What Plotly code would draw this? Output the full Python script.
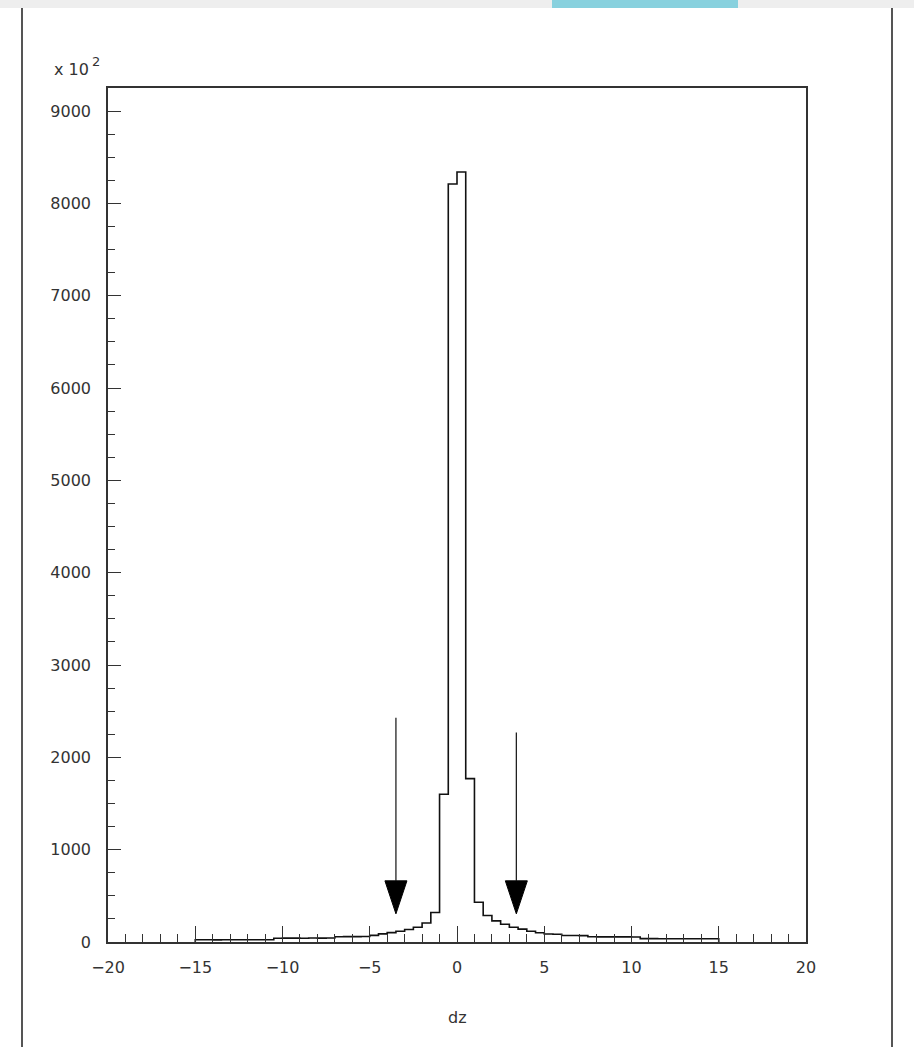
import numpy as np
import plotly.graph_objects as go

# dz histogram: 60 bins of width 0.5 between -15 and 15, counts in units of 10^2
dz_lo, dz_hi, n_bins = -15.0, 15.0, 60
counts_x100 = [
    24, 24, 23, 24, 25, 24, 25, 24, 25,            # -15.0 .. -10.5
    41, 42, 42, 41, 43, 42, 43,                    # -10.5 .. -7.0
    57, 58, 58, 59,                                # -7.0 .. -5.0
    72, 88, 102, 117, 136, 160, 205, 320,          # -5.0 .. -1.0
    1600, 8210, 8340, 1770,                        # -1.0 .. 1.0
    430, 287, 229, 193, 160, 139, 117, 100,        # 1.0 .. 5.0
    86, 84,                                        # 5.0 .. 6.0
    71, 70, 69,                                    # 6.0 .. 7.5
    57, 56, 56, 55, 55, 54,                        # 7.5 .. 10.5
    37, 37, 36, 36, 36, 35, 36, 35, 35,            # 10.5 .. 15.0
]

# cut markers
cut_x = [-3.5, 3.4]
cut_top = [2430, 2270]
cut_tip = [305, 305]

x_ticks = [-20, -15, -10, -5, 0, 5, 10, 15, 20]
y_ticks = [0, 1000, 2000, 3000, 4000, 5000, 6000, 7000, 8000, 9000]
x_range = [-20, 20]
y_range = [0, 9250]

W, H = 914, 1047
ML, MR, MT, MB = 108, 108, 88, 105
PW, PH = W - ML - MR, H - MT - MB


def px_x(p):
    return (p - ML) / PW


def px_y(p):
    return (H - MB - p) / PH


edges = np.linspace(dz_lo, dz_hi, n_bins + 1)
step_x = [edges[0]] + list(edges) + [edges[-1]]
step_y = [0] + list(counts_x100) + [counts_x100[-1], 0]

fig = go.Figure()
fig.add_trace(go.Scatter(
    x=step_x, y=step_y, mode="lines", line=dict(color="#111", width=1.6, shape="hv"),
    hoverinfo="skip", showlegend=False,
))

# arrows: shaft plus filled head
head_hw = 11 * (x_range[1] - x_range[0]) / PW
head_len = 33 * (y_range[1] - y_range[0]) / PH
for xc, yt, yp in zip(cut_x, cut_top, cut_tip):
    fig.add_trace(go.Scatter(
        x=[xc, xc], y=[yt, yp + head_len], mode="lines",
        line=dict(color="#111", width=1.2), hoverinfo="skip", showlegend=False,
    ))
    fig.add_trace(go.Scatter(
        x=[xc - head_hw, xc + head_hw, xc, xc - head_hw],
        y=[yp + head_len, yp + head_len, yp, yp + head_len],
        mode="lines", fill="toself", fillcolor="#000", line=dict(color="#000", width=1),
        hoverinfo="skip", showlegend=False,
    ))

font = dict(family="DejaVu Sans", size=16, color="#333")

fig.update_layout(
    width=W, height=H,
    margin=dict(l=ML, r=MR, t=MT, b=MB),
    paper_bgcolor="white", plot_bgcolor="white",
    font=font,
    xaxis=dict(
        range=x_range, tickvals=x_ticks, ticktext=[f"{v}".replace("-", "\u2212") for v in x_ticks],
        ticks="inside", ticklen=16, tickwidth=1.3, tickcolor="#333",
        minor=dict(dtick=1, ticks="inside", ticklen=8, tickwidth=1.3, tickcolor="#333"),
        showline=True, linecolor="#333", linewidth=1.6, mirror=True,
        showgrid=False, zeroline=False, ticklabelstandoff=10, tickfont=font,
    ),
    yaxis=dict(
        range=y_range, tickvals=y_ticks,
        ticks="inside", ticklen=13, tickwidth=1.3, tickcolor="#333",
        minor=dict(dtick=250, ticks="inside", ticklen=7, tickwidth=1.3, tickcolor="#333"),
        showline=True, linecolor="#333", linewidth=1.6, mirror=True,
        showgrid=False, zeroline=False, ticklabelstandoff=12, tickfont=font,
    ),
    shapes=[
        dict(type="rect", xref="paper", yref="paper", x0=px_x(0), x1=px_x(W),
             y0=px_y(8), y1=px_y(0), fillcolor="#eeeeee", line=dict(width=0), layer="below"),
        dict(type="rect", xref="paper", yref="paper", x0=px_x(552), x1=px_x(738),
             y0=px_y(8), y1=px_y(0), fillcolor="#88d1de", line=dict(width=0), layer="below"),
        dict(type="line", xref="paper", yref="paper", x0=px_x(22), x1=px_x(22),
             y0=px_y(8), y1=px_y(H), line=dict(color="#555", width=2)),
        dict(type="line", xref="paper", yref="paper", x0=px_x(892), x1=px_x(892),
             y0=px_y(8), y1=px_y(H), line=dict(color="#555", width=2)),
    ],
    annotations=[
        dict(text="x 10", xref="paper", yref="paper", x=px_x(52), y=px_y(70),
             xanchor="left", yanchor="middle", showarrow=False, font=font),
        dict(text="2", xref="paper", yref="paper", x=px_x(90), y=px_y(62),
             xanchor="left", yanchor="middle", showarrow=False,
             font=dict(family="DejaVu Sans", size=13, color="#333")),
        dict(text="dz", xref="x", yref="paper", x=0, y=px_y(1017),
             xanchor="center", yanchor="middle", showarrow=False, font=font),
    ],
)

fig.write_html("out.html")
